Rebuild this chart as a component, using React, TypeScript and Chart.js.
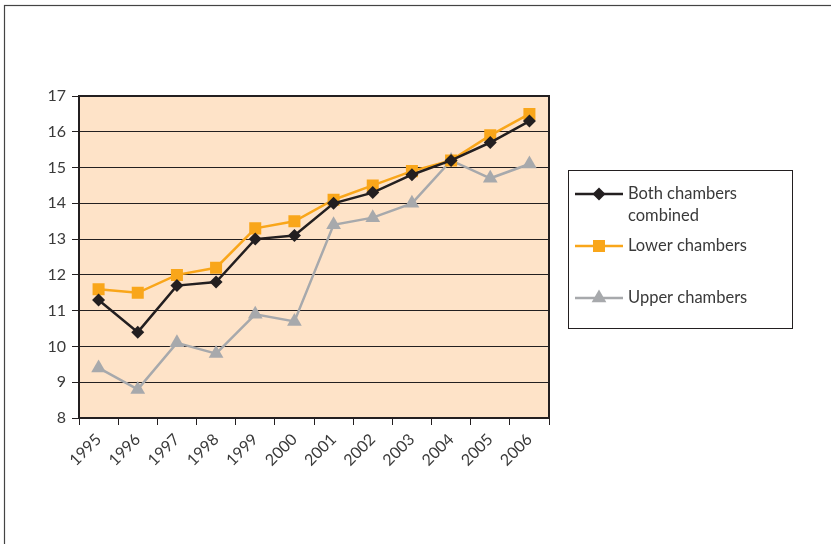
import React, { useEffect, useRef } from "react";
import { Chart, registerables } from "chart.js";

Chart.register(...registerables);

const years = ["1995", "1996", "1997", "1998", "1999", "2000", "2001", "2002", "2003", "2004", "2005", "2006"];
const bothChambers = [11.3, 10.4, 11.7, 11.8, 13.0, 13.1, 14.0, 14.3, 14.8, 15.2, 15.7, 16.3];
const lowerChambers = [11.6, 11.5, 12.0, 12.2, 13.3, 13.5, 14.1, 14.5, 14.9, 15.2, 15.9, 16.5];
const upperChambers = [9.4, 8.8, 10.1, 9.8, 10.9, 10.7, 13.4, 13.6, 14.0, 15.2, 14.7, 15.1];
const legendLabels = [["Both chambers", "combined"], ["Lower chambers"], ["Upper chambers"]];

const BLACK = "#231F20";
const ORANGE = "#F9A61A";
const GREY = "#A7A9AC";
const PEACH = "#FEE3C8";
const TEXT = "#3a3a3a";
const FONT = "Lato, 'Open Sans', sans-serif";

function drawMarker(ctx: CanvasRenderingContext2D, style: string, x: number, y: number, r: number) {
  ctx.beginPath();
  if (style === "rectRot") {
    ctx.moveTo(x, y - r);
    ctx.lineTo(x + r, y);
    ctx.lineTo(x, y + r);
    ctx.lineTo(x - r, y);
    ctx.closePath();
  } else if (style === "rect") {
    const s = r * Math.SQRT1_2;
    ctx.rect(x - s, y - s, 2 * s, 2 * s);
  } else {
    const h = r;
    ctx.moveTo(x, y - h);
    ctx.lineTo(x + h * Math.sin(Math.PI / 3), y + h * 0.5);
    ctx.lineTo(x - h * Math.sin(Math.PI / 3), y + h * 0.5);
    ctx.closePath();
  }
  ctx.fill();
}

const decorPlugin = {
  id: "decor",
  beforeDraw(chart: any) {
    const { ctx, chartArea } = chart;
    ctx.save();
    ctx.fillStyle = PEACH;
    ctx.fillRect(chartArea.left, chartArea.top, chartArea.right - chartArea.left, chartArea.bottom - chartArea.top);
    ctx.restore();
  },
  afterDraw(chart: any) {
    const { ctx, chartArea } = chart;
    ctx.save();
    ctx.strokeStyle = BLACK;
    ctx.lineWidth = 2;
    ctx.strokeRect(chartArea.left, chartArea.top, chartArea.right - chartArea.left, chartArea.bottom - chartArea.top);
    ctx.strokeStyle = "#444";
    ctx.lineWidth = 1.2;
    ctx.strokeRect(4.5, 5.5, 1000, 1000);
    const bx = 568.5, by = 170.5, bw = 224, bh = 158;
    ctx.strokeStyle = BLACK;
    ctx.lineWidth = 1;
    ctx.strokeRect(bx, by, bw, bh);
    const rows = [194, 246, 298];
    const sizes = [6.5, 8.5, 8.5];
    chart.data.datasets.forEach((ds: any, i: number) => {
      const y = rows[i];
      ctx.strokeStyle = ds.borderColor;
      ctx.lineWidth = 2.5;
      ctx.beginPath();
      ctx.moveTo(575, y);
      ctx.lineTo(623, y);
      ctx.stroke();
      ctx.fillStyle = ds.pointBackgroundColor;
      drawMarker(ctx, ds.pointStyle, 599, y, sizes[i]);
      ctx.fillStyle = TEXT;
      ctx.font = `16.5px ${FONT}`;
      ctx.textBaseline = "middle";
      ctx.textAlign = "left";
      legendLabels[i].forEach((t, j) => {
        ctx.fillText(t, 628, y + j * 22);
      });
    });
    ctx.restore();
  },
};

export default function App() {
  const ref = useRef<HTMLCanvasElement>(null);
  useEffect(() => {
    document.body.style.margin = "0";
    if (!ref.current) return;
    const chart = new Chart(ref.current, {
      type: "line",
      data: {
        labels: years,
        datasets: [
          {
            label: legendLabels[0].join(" "),
            data: bothChambers,
            borderColor: BLACK,
            backgroundColor: BLACK,
            pointBackgroundColor: BLACK,
            pointBorderColor: BLACK,
            pointStyle: "rectRot",
            pointRadius: 6.5,
            borderWidth: 2.5,
            pointBorderWidth: 0,
            tension: 0,
          },
          {
            label: legendLabels[1].join(" "),
            data: lowerChambers,
            borderColor: ORANGE,
            backgroundColor: ORANGE,
            pointBackgroundColor: ORANGE,
            pointBorderColor: ORANGE,
            pointStyle: "rect",
            pointRadius: 8.5,
            borderWidth: 2.5,
            pointBorderWidth: 0,
            tension: 0,
          },
          {
            label: legendLabels[2].join(" "),
            data: upperChambers,
            borderColor: GREY,
            backgroundColor: GREY,
            pointBackgroundColor: GREY,
            pointBorderColor: GREY,
            pointStyle: "triangle",
            pointRadius: 8.5,
            borderWidth: 2.5,
            pointBorderWidth: 0,
            tension: 0,
          },
        ],
      },
      options: {
        responsive: false,
        animation: false,
        layout: { padding: { top: 96, right: 282, left: 0, bottom: 0 } },
        plugins: { legend: { display: false }, tooltip: { enabled: false } },
        scales: {
          x: {
            offset: true,
            grid: { display: true, drawOnChartArea: false, offset: true, tickLength: 7, color: BLACK, lineWidth: 1 },
            border: { display: true, color: BLACK, width: 2 },
            ticks: {
              minRotation: 45,
              maxRotation: 45,
              padding: 5,
              color: TEXT,
              font: { family: FONT, size: 16 },
            },
            afterFit: (scale: any) => {
              scale.height = 126;
            },
          },
          y: {
            min: 8,
            max: 17,
            ticks: { stepSize: 1, padding: 6, color: TEXT, font: { family: FONT, size: 16 } },
            grid: { color: BLACK, lineWidth: 1, tickLength: 7 },
            border: { display: true, color: BLACK, width: 2 },
            afterFit: (scale: any) => {
              scale.width = 79;
            },
          },
        },
      },
      plugins: [decorPlugin],
    });
    return () => chart.destroy();
  }, []);
  return (
    <div style={{ width: 831, height: 544 }}>
      <canvas ref={ref} width={831} height={544} />
    </div>
  );
}
